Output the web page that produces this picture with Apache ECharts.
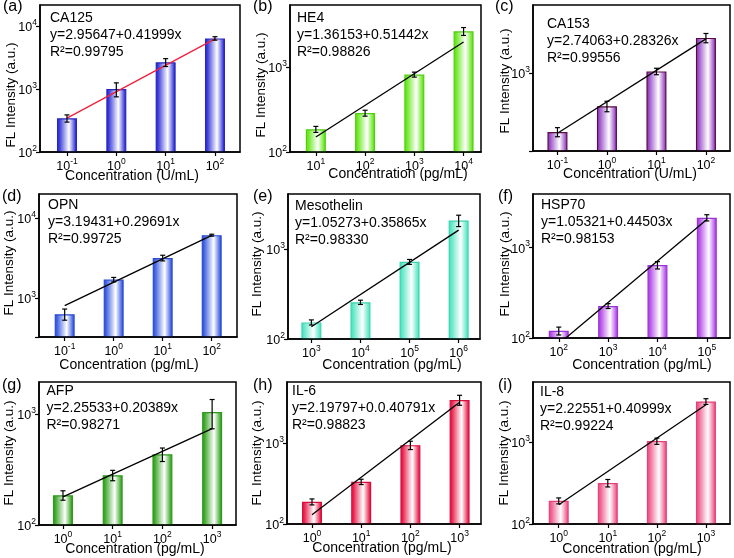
<!DOCTYPE html>
<html><head><meta charset="utf-8">
<script src="https://cdn.jsdelivr.net/npm/echarts@6/dist/echarts.min.js"></script>
<style>html,body{margin:0;padding:0;background:#fff}#c{width:734px;height:558px}</style>
</head><body><div id="c"></div>
<script>
// ---------------- data ----------------
const panelLetters = ['(a)','(b)','(c)','(d)','(e)','(f)','(g)','(h)','(i)'];
const markers = ['CA125','HE4','CA153','OPN','Mesothelin','HSP70','AFP','IL-6','IL-8'];
const equations = ['y=2.95647+0.41999x','y=1.36153+0.51442x','y=2.74063+0.28326x',
                   'y=3.19431+0.29691x','y=1.05273+0.35865x','y=1.05321+0.44503x',
                   'y=2.25533+0.20389x','y=2.19797+0.0.40791x','y=2.22551+0.40999x'];
const r2Values = ['0.99795','0.98826','0.99556','0.99725','0.98330','0.98153','0.98271','0.98823','0.99224'];
const xAxisNames = ['Concentration (U/mL)','Concentration (pg/mL)','Concentration (U/mL)',
                    'Concentration (pg/mL)','Concentration (pg/mL)','Concentration (pg/mL)',
                    'Concentration (pg/mL)','Concentration (pg/mL)','Concentration (pg/mL)'];
const yAxisName = 'FL Intensity (a.u.)';
const tickExponents = [['-1','0','1','2'],['1','2','3','4'],['-1','0','1','2'],
                       ['-1','0','1','2'],['3','4','5','6'],['2','3','4','5'],
                       ['0','1','2','3'],['0','1','2','3'],['0','1','2','3']];

const intensityCA125 = [343, 1000, 2650, 6350];
const errorCA125     = [45, 250, 380, 400];
const fitCA125       = [344, 6250];
const intensityHE4   = [185, 287, 815, 2630];
const errorHE4       = [15, 23, 55, 280];
const fitHE4         = [150, 1970];
const intensityCA153 = [298, 508, 1045, 2090];
const errorCA153     = [28, 55, 70, 200];
const fitCA153       = [290, 2050];
const intensityOPN   = [625, 1700, 3180, 6150];
const errorOPN       = [100, 110, 260, 170];
const fitOPN         = [800, 6120];
const intensityMSLN  = [153, 256, 720, 2075];
const errorMSLN      = [10, 14, 45, 300];
const fitMSLN        = [137, 1620];
const intensityHSP70 = [120, 226, 640, 2140];
const errorHSP70     = [12, 14, 60, 170];
const fitHSP70       = [86, 2050];
const intensityAFP   = [185, 280, 432, 1038];
const errorAFP       = [18, 30, 60, 305];
const fitAFP         = [179, 734];
const intensityIL6   = [188, 332, 940, 3400];
const errorIL6       = [16, 25, 110, 480];
const fitIL6         = [130, 3180];
const intensityIL8   = [192, 316, 1025, 3120];
const errorIL8       = [16, 33, 90, 250];
const fitIL8         = [172, 2850];

const intensities = [intensityCA125, intensityHE4, intensityCA153, intensityOPN, intensityMSLN, intensityHSP70, intensityAFP, intensityIL6, intensityIL8];
const errors = [errorCA125, errorHE4, errorCA153, errorOPN, errorMSLN, errorHSP70, errorAFP, errorIL6, errorIL8];
const fits = [fitCA125, fitHE4, fitCA153, fitOPN, fitMSLN, fitHSP70, fitAFP, fitIL6, fitIL8];

// y-axis ranges (log) and x ranges (category index units)
const yRanges = [[100,21500],[100,5360],[201,4130],[323,20230],[100,4085],[100,3915],[100,1930],[100,5660],[100,5390]];
const xRanges = [[-0.547,3.507],[-0.525,3.354],[-0.494,3.486],[-0.524,3.516],[-0.476,3.435],[-0.522,3.47],[-0.482,3.48],[-0.508,3.435],[-0.524,3.49]];

// ---------------- layout / style ----------------
const gridBoxes = [
  [40, 5, 200, 147], [290, 5, 191, 147], [533, 5, 197, 146],
  [39, 194, 198, 143], [288, 194, 192, 145], [533, 194, 197, 144],
  [39, 382, 197, 143], [287, 382, 194, 142], [533, 382, 197, 142]
];
const barColors = [
  ['#3434d8','#2626c0'], ['#66e81a','#50cc12'], ['#9646c6','#5a0c40'],
  ['#3a5ce0','#2c4cd4'], ['#56e6c4','#3ad4b0'], ['#b248e8','#9a34d4'],
  ['#3aa626','#2e981c'], ['#e81e4a','#d60e3e'], ['#ee588c','#e2427a']
];
const fitColors = ['#f0203c','#000','#000','#000','#000','#000','#000','#000','#000'];
const annotOffsets = [[10,13],[7,13],[14,19],[9,11],[7,11.7],[8,11.3],[7.5,9.5],[5,9.5],[7,9.7]];
const xNamePos = [[132,176],[398,174],[630,174],[129,365.5],[392,365.5],[642,365.5],[135,549],[382,548.5],[632,549]];
const yNamePos = [[11,95],[261,85],[505,81],[9,263],[257.5,264],[505,264],[9,453],[257,453],[504,453]];
const letterPos = [[3,7],[253,7],[495,7],[2,197],[253,197],[498,197],[2,385.5],[253,385.5],[498,385.5]];

const FONT = '"Liberation Sans", Arial, sans-serif';
const rich = {
  b: {fontSize: 12.5, fontFamily: FONT, color: '#000', lineHeight: 16, verticalAlign: 'bottom'},
  s: {fontSize: 8.5, fontFamily: FONT, color: '#000', lineHeight: 9.5, verticalAlign: 'top'}
};

const grids = [], xAxes = [], yAxes = [], series = [], graphics = [];

for (let i = 0; i < 9; i++) {
  const g = gridBoxes[i];
  grids.push({left: g[0], top: g[1], width: g[2], height: g[3], show: true,
              borderColor: '#000', borderWidth: 1.5, backgroundColor: 'transparent', containLabel: false});
  const idx = [0, 1, 2, 3];
  xAxes.push({
    type: 'value', gridIndex: i, min: xRanges[i][0], max: xRanges[i][1], z: 10,
    axisLine: {show: true, onZero: false, lineStyle: {color: '#000', width: 1.5}},
    axisTick: {show: true, customValues: idx, length: 4, lineStyle: {color: '#000', width: 1.2}},
    axisLabel: {customValues: idx, margin: 5,
      formatter: (v) => '{b|10}{s|' + tickExponents[i][Math.round(v)] + '}', rich: rich},
    splitLine: {show: false}
  });
  yAxes.push({
    type: 'log', logBase: 10, gridIndex: i, min: yRanges[i][0], max: yRanges[i][1], z: 10,
    axisLine: {show: true, onZero: false, lineStyle: {color: '#000', width: 1.5}},
    axisTick: {show: true, length: 4, lineStyle: {color: '#000', width: 1.2}},
    axisLabel: {margin: 3, showMaxLabel: false,
      formatter: (v) => { const e = Math.log10(v); const r = Math.round(e);
        return Math.abs(e - r) < 1e-6 ? '{b|10}{s|' + r + '}' : ''; }, rich: rich},
    splitLine: {show: false}, minorTick: {show: false}
  });
  const c = barColors[i];
  series.push({
    type: 'bar', xAxisIndex: i, yAxisIndex: i, barWidth: 20, clip: true, z: 2, silent: true,
    data: intensities[i].map((v, k) => [k, v]),
    itemStyle: {
      color: {type: 'linear', x: 0, y: 0, x2: 1, y2: 0,
        colorStops: [{offset: 0, color: c[0]}, {offset: 0.1, color: c[0]},
                     {offset: 0.6, color: '#ffffff'}, {offset: 0.93, color: c[0]}, {offset: 1, color: c[0]}]},
      borderColor: c[1], borderWidth: 1.2
    }
  });
  series.push({
    type: 'line', xAxisIndex: i, yAxisIndex: i, clip: true, z: 3, silent: true,
    symbol: 'none', data: [[0, fits[i][0]], [3, fits[i][1]]],
    lineStyle: {color: fitColors[i], width: 1.3}
  });
  series.push({
    type: 'custom', xAxisIndex: i, yAxisIndex: i, z: 4, silent: true,
    data: intensities[i].map((v, k) => [k, v, errors[i][k]]),
    encode: {x: 0, y: 1},
    renderItem: (params, api) => {
      const x = api.value(0), v = api.value(1), e = api.value(2);
      const hi = api.coord([x, v + e]), lo = api.coord([x, v - e]);
      const w = 2.5, st = {stroke: '#000', lineWidth: 1.2};
      return {type: 'group', children: [
        {type: 'line', shape: {x1: hi[0], y1: hi[1], x2: lo[0], y2: lo[1]}, style: st},
        {type: 'line', shape: {x1: hi[0] - w, y1: hi[1], x2: hi[0] + w, y2: hi[1]}, style: st},
        {type: 'line', shape: {x1: lo[0] - w, y1: lo[1], x2: lo[0] + w, y2: lo[1]}, style: st}
      ]};
    }
  });
  // annotation text
  const a = annotOffsets[i];
  graphics.push({type: 'text', x: g[0] + a[0], y: g[1] + a[1] - 8.5, z: 20,
    style: {text: markers[i] + '\n' + equations[i] + '\nR\u00B2=' + r2Values[i],
      font: '14px ' + FONT, fill: '#000', lineHeight: 17, align: 'left', verticalAlign: 'top'}});
  graphics.push({type: 'text', x: xNamePos[i][0], y: xNamePos[i][1], z: 20,
    style: {text: xAxisNames[i], font: '14px ' + FONT, fill: '#000', align: 'center', verticalAlign: 'middle'}});
  graphics.push({type: 'text', x: yNamePos[i][0], y: yNamePos[i][1], rotation: Math.PI / 2, z: 20,
    style: {text: yAxisName, font: '13.5px ' + FONT, fill: '#000', align: 'center', verticalAlign: 'middle'}});
  graphics.push({type: 'text', x: letterPos[i][0], y: letterPos[i][1], z: 20,
    style: {text: panelLetters[i], font: '16px ' + FONT, fill: '#000', align: 'left', verticalAlign: 'middle'}});
}

const chart = echarts.init(document.getElementById('c'), null, {renderer: 'canvas'});
chart.setOption({
  animation: false,
  backgroundColor: '#fff',
  textStyle: {fontFamily: FONT},
  grid: grids, xAxis: xAxes, yAxis: yAxes, series: series, graphic: graphics
});
</script>
</body></html>
